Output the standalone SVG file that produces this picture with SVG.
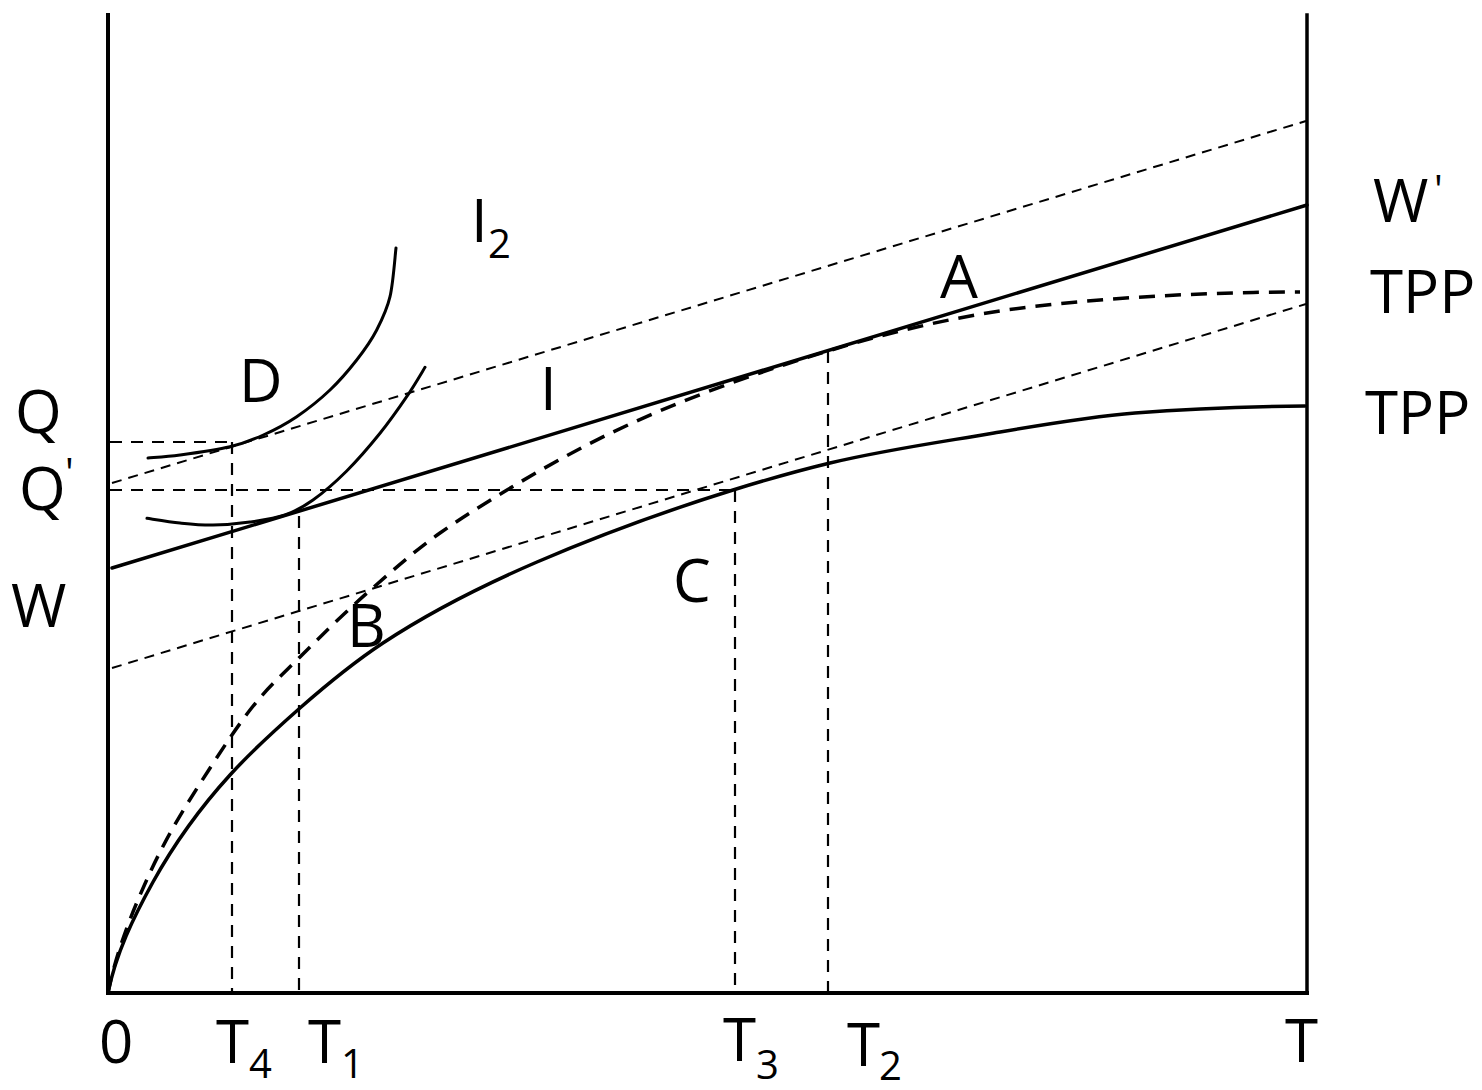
<svg xmlns="http://www.w3.org/2000/svg" width="1482" height="1090" viewBox="0 0 1482 1090">
<style>
  .ax { stroke:#000; stroke-width:4; fill:none; stroke-linecap:square; }
  .solid { stroke:#000; stroke-width:3.5; fill:none; stroke-linecap:round; stroke-linejoin:round; }
  .icurve { stroke:#000; stroke-width:3; fill:none; stroke-linecap:round; }
  .thin { stroke:#000; stroke-width:2; fill:none; stroke-dasharray:10 7; }
  .guide { stroke:#000; stroke-width:2.2; fill:none; stroke-dasharray:12 9; }
  .tppd { stroke:#000; stroke-width:3.5; fill:none; stroke-dasharray:16 10; }
  text { font-family:"Open Sans","Noto Sans","DejaVu Sans",sans-serif; font-size:60px; fill:#000; }
  .sub { font-size:40px; }
</style>
<rect x="0" y="0" width="1482" height="1090" fill="#fff"/>
<g id="axes">
  <line class="ax" x1="108" y1="15" x2="108" y2="993"/>
  <line class="ax" x1="108" y1="993" x2="1307" y2="993"/>
  <line class="ax" x1="1307" y1="15" x2="1307" y2="993" style="stroke-width:3.5"/>
</g>
<g id="guides">
  <line class="guide" x1="110" y1="442" x2="232" y2="442"/>
  <line class="guide" x1="110" y1="490" x2="735" y2="490"/>
  <line class="guide" x1="232" y1="442" x2="232" y2="991"/>
  <line class="guide" x1="299" y1="516" x2="299" y2="991"/>
  <line class="guide" x1="735" y1="490" x2="735" y2="991"/>
  <line class="guide" x1="828" y1="351" x2="828" y2="991"/>
</g>
<g id="budget-lines">
  <line class="thin" x1="112" y1="483" x2="1306" y2="121"/>
  <line class="thin" x1="112" y1="668" x2="1306" y2="304"/>
  <line class="solid" x1="112" y1="568" x2="1307" y2="205"/>
</g>
<g id="tpp-lower">
  <path class="solid" d="M108,993 C115.8,953.8 133.6,917 153,882 C178.7,835.8 204.3,803.2 230,775 C253.3,749.3 276.7,728.5 300,708 C327.7,683.7 355.3,661.3 383,643 C434.3,609.1 485.7,584.1 537,562 C602.3,533.9 667.7,510.3 733,490 C765.3,480 797.7,470.8 830,463 C884.7,449.9 939.3,442.3 994,433 C1041,425 1088,416.8 1135,413 C1191.7,408.5 1248.3,406.6 1305,406"/>
</g>
<g id="tpp-upper">
  <path class="tppd" d="M108,993 C116,952.9 131.1,914.2 148,877 C169.3,830.1 190.7,798.1 212,765 C224.7,745.4 237.3,726.5 250,710 C266.7,688.3 283.3,673.7 300,657 C322.3,634.7 344.7,612.7 367,593 C391.3,571.6 415.7,550 440,533 C462.3,517.4 484.7,503.4 507,490 C532.3,474.8 557.7,460.2 583,447 C624.3,425.5 665.7,407.7 707,392 C747.3,376.7 787.7,363.2 828,351 C885.3,333.6 942.7,319.6 1000,311 C1033.3,306 1066.7,302.7 1100,300 C1166.7,294.7 1233.3,292 1300,292"/>
</g>
<g id="indifference-I2">
  <path class="icurve" d="M148,458 C153.3,457.5 166.3,456.9 180,455 C193.7,453.1 216.1,450 230,446.7 C243.9,443.4 252.2,440 263.3,435 C274.4,430 285.6,424.2 296.7,416.7 C307.8,409.2 320,399.5 330,390 C340,380.5 348.9,370 356.7,360 C364.5,350 371.2,340.6 376.7,330 C382.2,319.4 386.8,310.4 390,296.7 C393.2,283 395,256.1 396,248"/>
</g>
<g id="indifference-I">
  <path class="icurve" d="M147,518.3 C152.5,519.1 169,521.9 180,523 C191,524.1 201.3,525.2 213,525 C224.7,524.8 238,523.7 250,522 C262,520.3 274.5,518.7 285,515 C295.5,511.3 302.7,507.3 313,500 C323.3,492.7 335.5,482.1 346.7,471 C357.9,459.9 370,445.7 380,433.3 C390,420.9 399.2,407.7 406.7,396.7 C414.2,385.7 422,372.2 425,367.3"/>
</g>
<g id="labels">
  <text x="471" y="242">I</text><text class="sub" x="488" y="258">2</text>
  <text x="239" y="402">D</text>
  <text x="540" y="410">I</text>
  <text x="940" y="298">A</text>
  <text x="347" y="647">B</text>
  <text x="673" y="602">C</text>
  <text x="15" y="433">Q</text>
  <text x="19" y="510">Q</text><text class="sub" x="65" y="487">'</text>
  <text x="11" y="627">W</text>
  <text x="1373" y="222">W</text><text class="sub" x="1434" y="204">'</text>
  <text x="1370" y="313">TPP</text>
  <text x="1365" y="434">TPP</text>
  <text x="99" y="1063">0</text>
  <text x="216" y="1063">T</text><text class="sub" x="249" y="1078">4</text>
  <text x="308" y="1063">T</text><text class="sub" x="341" y="1078">1</text>
  <text x="723" y="1061">T</text><text class="sub" x="756" y="1079">3</text>
  <text x="847" y="1066">T</text><text class="sub" x="879" y="1080">2</text>
  <text x="1285" y="1062">T</text>
</g>
</svg>
